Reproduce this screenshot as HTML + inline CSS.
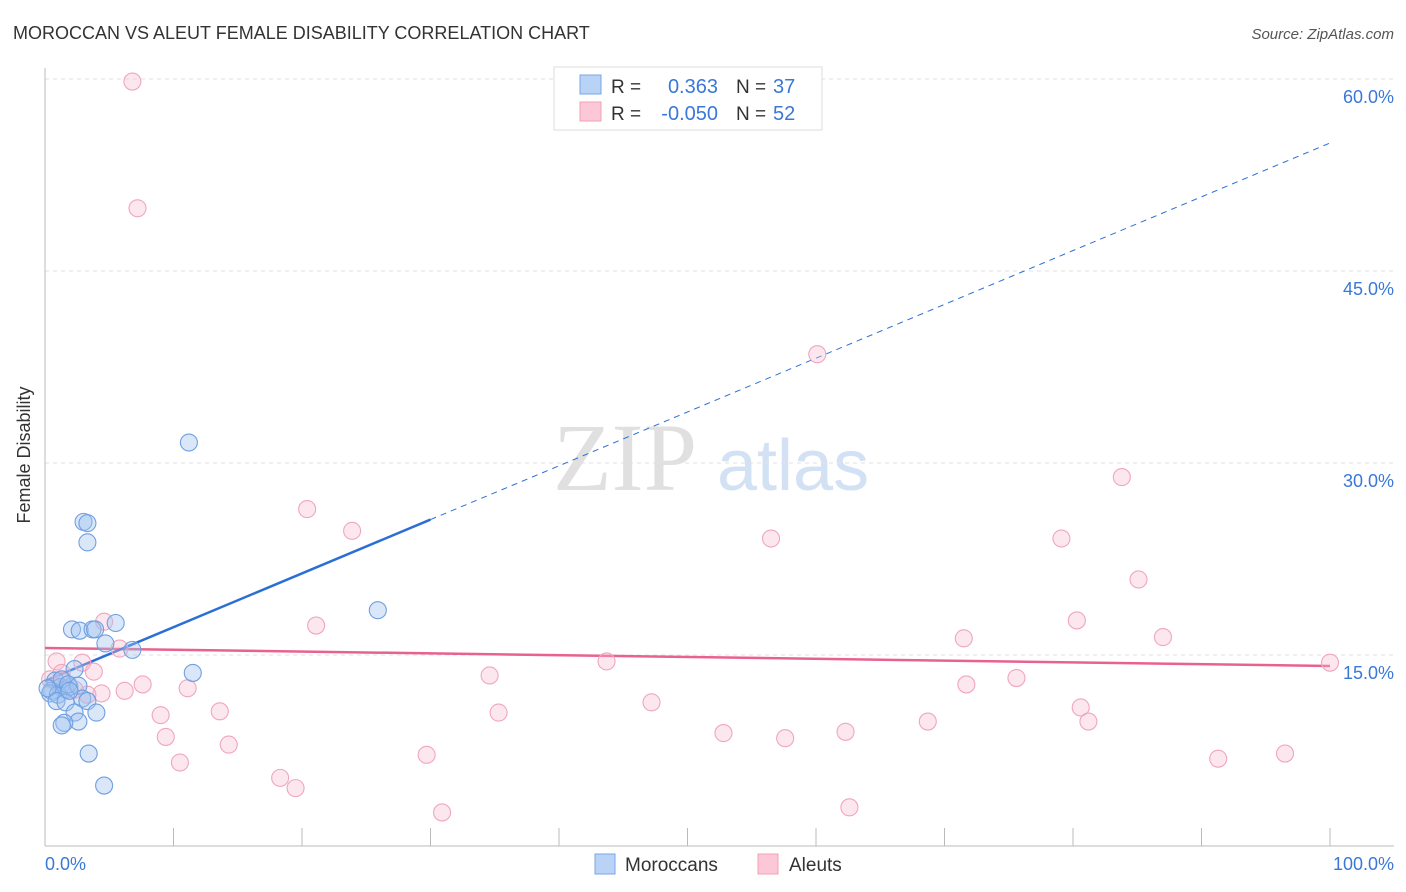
<!DOCTYPE html>
<html><head><meta charset="utf-8"><style>
body{margin:0;background:#fff;font-family:"Liberation Sans",sans-serif;}
svg{display:block}
</style></head><body>
<svg id="chart" width="1406" height="892" viewBox="0 0 1406 892">
<text x="13" y="39" font-size="18" fill="#333">MOROCCAN VS ALEUT FEMALE DISABILITY CORRELATION CHART</text>
<text x="1394" y="39" font-size="15" fill="#555" text-anchor="end" font-style="italic">Source: ZipAtlas.com</text>
<g>
<text x="553" y="490" font-size="96" fill="#e0e0e0" font-family="Liberation Serif,serif">ZIP</text>
<text x="717" y="490" font-size="72" fill="#d3e1f4">atlas</text>
</g>
<g id="grid"></g>
<g id="axes"></g>
<g id="trend"></g>
<g id="points"></g>
<text x="30" y="455" font-size="18" fill="#333" text-anchor="middle" transform="rotate(-90 30 455)">Female Disability</text>
<text x="45" y="870" font-size="18" fill="#3a78d8">0.0%</text>
<text x="1394" y="870" font-size="18" fill="#3a78d8" text-anchor="end">100.0%</text>
<g>
<rect x="554" y="67" width="268" height="63" fill="#fff" stroke="#ddd"/>
<rect x="580" y="75" width="21" height="19" fill="#b8d3f6" stroke="#7aa6e6"/>
<rect x="580" y="102" width="21" height="19" fill="#fcc8d7" stroke="#f0a0b8"/>
<text x="611" y="93" font-size="19" fill="#333">R =</text>
<text x="718" y="93" font-size="20" fill="#3a78d8" text-anchor="end">0.363</text>
<text x="736" y="93" font-size="19" fill="#333">N =</text>
<text x="773" y="93" font-size="20" fill="#3a78d8">37</text>
<text x="611" y="120" font-size="19" fill="#333">R =</text>
<text x="718" y="120" font-size="20" fill="#3a78d8" text-anchor="end">-0.050</text>
<text x="736" y="120" font-size="19" fill="#333">N =</text>
<text x="773" y="120" font-size="20" fill="#3a78d8">52</text>
</g>
<g>
<rect x="595" y="854" width="20" height="20" fill="#b8d3f6" stroke="#7aa6e6"/>
<text x="625" y="871" font-size="19" fill="#333">Moroccans</text>
<rect x="758" y="854" width="20" height="20" fill="#fcc8d7" stroke="#f0a0b8"/>
<text x="789" y="871" font-size="19" fill="#333">Aleuts</text>
</g>
</svg>
<script>
const yTicks=[15,30,45,60];
const xTickCount=10;
const blueX=[11.2,3.0,3.3,3.3,25.9,2.1,2.7,3.7,3.9,5.5,4.7,6.8,11.5,2.3,0.8,1.2,1.6,1.9,0.5,0.4,1.0,0.2,1.3,1.8,2.6,2.9,3.3,0.9,1.6,2.3,4.0,2.6,1.5,1.3,3.4,4.6,1.9];
const blueY=[31.6,25.4,25.3,23.8,18.5,17.0,16.9,17.0,17.0,17.5,15.9,15.4,13.6,13.9,13.0,12.5,12.3,12.5,12.2,12.0,11.9,12.4,13.1,12.7,12.6,11.6,11.4,11.4,11.3,10.5,10.5,9.8,9.7,9.5,7.3,4.8,12.2];
const pinkX=[6.8,7.2,60.1,83.8,20.4,23.9,56.5,79.1,85.1,4.6,21.1,80.3,71.5,87.0,5.8,0.9,2.9,100,43.7,1.3,3.8,34.6,75.6,7.6,6.2,11.1,71.7,4.4,3.3,2.3,47.2,80.6,81.2,9.0,35.3,13.6,68.7,52.8,9.4,57.6,62.3,14.3,29.7,10.5,91.3,96.5,18.3,19.5,62.6,30.9,1.2,0.4];
const pinkY=[59.8,49.9,38.5,28.9,26.4,24.7,24.1,24.1,20.9,17.6,17.3,17.7,16.3,16.4,15.5,14.5,14.4,14.4,14.5,13.6,13.7,13.4,13.2,12.7,12.2,12.4,12.7,12.0,11.9,12.3,11.3,10.9,9.8,10.3,10.5,10.6,9.8,8.9,8.6,8.5,9.0,8.0,7.2,6.6,6.9,7.3,5.4,4.6,3.1,2.7,13.0,13.1];
const blueTrend=[12.97,55.0];
const pinkTrend=[15.55,14.14];
const NS='http://www.w3.org/2000/svg';
const X=v=>45+v*12.85;
const Y=v=>847-v*12.8;
function mk(tag,attrs,parent){const e=document.createElementNS(NS,tag);for(const k in attrs)e.setAttribute(k,attrs[k]);parent.appendChild(e);return e;}
const grid=document.getElementById('grid'),axes=document.getElementById('axes'),trend=document.getElementById('trend'),pts=document.getElementById('points');
yTicks.forEach(t=>{
 const l=mk('line',{x1:45,x2:1394,y1:Y(t),y2:Y(t),stroke:'#e2e2e2','stroke-dasharray':'4,4'},grid);
 
 
 const tx=mk('text',{x:1394,y:Y(t)+24,'font-size':18,fill:'#3a78d8','text-anchor':'end'},grid);
 tx.textContent=t.toFixed(1)+'%';
 
 
});
const ax=mk('line',{x1:45,x2:45,y1:68,y2:846,stroke:'#bbb'},axes);


const bx=mk('line',{x1:45,x2:1394,y1:846,y2:846,stroke:'#bbb'},axes);


for(let i=0;i<=xTickCount;i++){const v=i*100/xTickCount;
 const t=mk('line',{x1:X(v),x2:X(v),y1:828,y2:846,stroke:'#bbb'},axes);
 
 }
function dot(x,y,fill,stroke,name){const c=mk('circle',{cx:X(x),cy:Y(y),r:8.5,fill:fill,stroke:stroke,'stroke-width':1.1},pts);
 
 }
pinkX.forEach((x,i)=>dot(x,pinkY[i],'rgba(248,185,205,0.35)','#f0a6bd','aleut-point'));
blueX.forEach((x,i)=>dot(x,blueY[i],'rgba(160,196,240,0.4)','#6f9fe2','moroccan-point'));
const pl=mk('line',{x1:X(0),y1:Y(pinkTrend[0]),x2:X(100),y2:Y(pinkTrend[1]),stroke:'#e8628e','stroke-width':2.5},trend);


const bs=blueTrend[0],be=blueTrend[1],yb=x=>bs+(be-bs)*x/100;
const b1=mk('line',{x1:X(0),y1:Y(bs),x2:X(30),y2:Y(yb(30)),stroke:'#2b6fd6','stroke-width':2.5},trend);


const b2=mk('line',{x1:X(30),y1:Y(yb(30)),x2:X(100),y2:Y(be),stroke:'#2b6fd6','stroke-width':1,'stroke-dasharray':'6,5'},trend);


</script>
</body></html>
